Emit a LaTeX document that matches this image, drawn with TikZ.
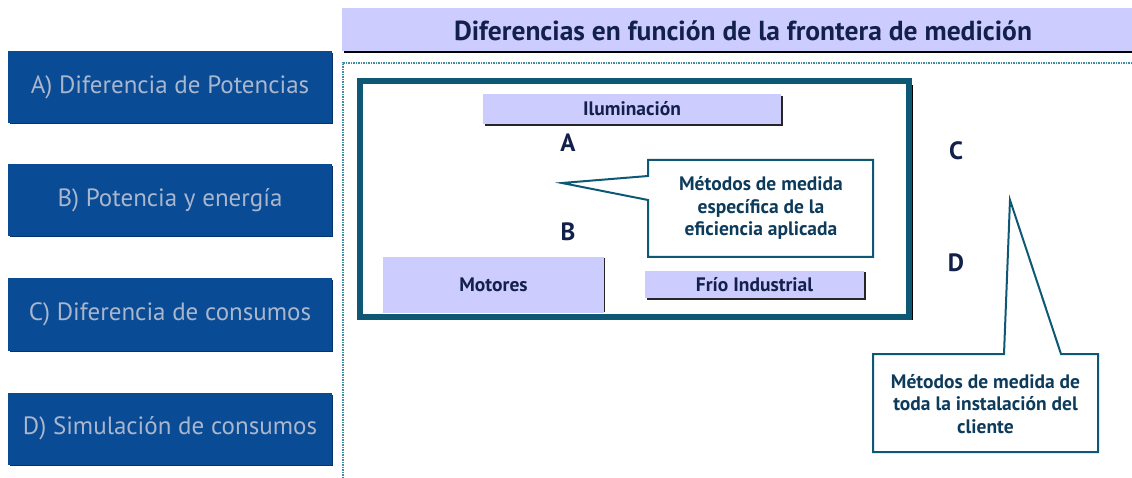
\documentclass[tikz,border=0pt]{standalone}
\usepackage{fontspec}
\setmainfont{PT Sans}
\definecolor{btnblue}{HTML}{0A4B95}
\definecolor{btnshadow}{HTML}{06336A}
\definecolor{btntext}{HTML}{A9B6CC}
\definecolor{lav}{HTML}{CCCCFF}
\definecolor{navy}{HTML}{13204A}
\definecolor{teal}{HTML}{0E5876}
\definecolor{dotteal}{HTML}{3E8FA3}
\definecolor{calltext}{HTML}{0D3B5C}
\tikzset{
  btn/.style={fill=btnblue, minimum width=324pt, minimum height=72pt, inner sep=0pt, text=btntext, font=\fontsize{25}{27}\selectfont},
  lavbox/.style={fill=lav, inner sep=0pt, text=navy, font=\bfseries\fontsize{19.5}{21}\selectfont},
  letter/.style={text=navy, font=\bfseries\fontsize{25}{27}\selectfont, inner sep=0pt},
  calltxt/.style={text=calltext, font=\bfseries\fontsize{19.5}{22.5}\selectfont, align=center, inner sep=0pt},
  callout/.style={draw=teal, line width=2pt, fill=white, line join=miter},
}
\begin{document}
\begin{tikzpicture}[x=1pt,y=-1pt]
\useasboundingbox (0,0) rectangle (1132,478);
\fill[white] (0,0) rectangle (1132,478);
% header
\fill[lav] (342,8) rectangle (1132,51);
\draw[black, line width=2pt] (344,52) -- (1132,52);
\node[text=navy, font=\bfseries\fontsize{27.5}{29}\selectfont, inner sep=0pt] (title) at (743,31) {Diferencias en función de la frontera de medición};
% dotted frame
\draw[dotteal, line width=1.2pt, dash pattern=on 1.5pt off 1pt] (1132,63) -- (343,63) -- (343,478);
% left buttons
\foreach \y/\t/\n in {87.5/{A) Diferencia de Potencias}/ba, 200.5/{B) Potencia y energía}/bb, 314.5/{C) Diferencia de consumos}/bc, 428.5/{D) Simulación de consumos}/bd}{
  \fill[btnshadow] (10,\y-34) rectangle (333,\y+37);
  \node[btn] (\n) at (170,\y) {\t};
}
% main frame
\draw[black, line width=1pt] (363,319.5) -- (912.5,319.5) -- (912.5,85);
\draw[teal, line width=6pt] (359.5,81.5) rectangle (909,316.5);
% Iluminacion
\fill[black!85] (485,96) rectangle (783,126);
\node[lavbox, minimum width=298pt, minimum height=30pt] (ilum) at (632,109) {Iluminación};
% Motores
\fill[black!85] (385,258) rectangle (605,312);
\node[lavbox, minimum width=221pt, minimum height=55pt] (mot) at (493.5,285) {Motores};
% Frio Industrial
\fill[black!85] (647,272) rectangle (866,300);
\node[lavbox, minimum width=219pt, minimum height=27pt] (frio) at (754.5,284.5) {Frío Industrial};
% letters
\node[letter] (la) at (568,143) {A};
\node[letter] (lb) at (568,232) {B};
\node[letter] (lc) at (956,151) {C};
\node[letter] (ld) at (956,263) {D};
% callout 1
\draw[callout] (648,160) -- (873,160) -- (873,257) -- (648,257) -- (648,200) -- (562,183) -- (648,176) -- cycle;
\node[calltxt] (c1) at (761,208) {Métodos de medida\\específica de la\\eficiencia aplicada};
% callout 2
\draw[callout] (873,354) -- (1004,354) -- (1010,200) -- (1061,354) -- (1098,354) -- (1098,452) -- (873,452) -- cycle;
\node[calltxt] (c2) at (985.5,404) {Métodos de medida de\\toda la instalación del\\cliente};
\end{tikzpicture}
\end{document}
